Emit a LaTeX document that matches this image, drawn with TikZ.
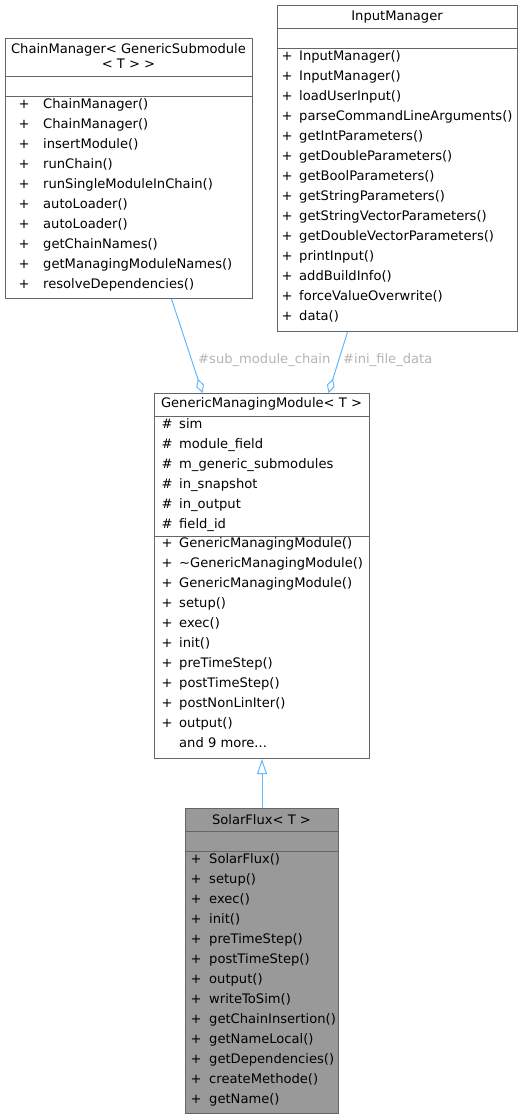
\documentclass[tikz,border=0pt]{standalone}
\usepackage{fontspec}
\setmainfont{DejaVu Sans}
\usetikzlibrary{arrows.meta}
\definecolor{boxline}{HTML}{666666}
\definecolor{boxfill}{HTML}{999999}
\definecolor{edgeblue}{HTML}{63B8FF}
\definecolor{labelgray}{HTML}{B4B4B4}

\begin{document}
\begin{tikzpicture}[
    x=1pt, y=-1pt,
    font=\fontsize{13.1}{15}\selectfont,
    umlbox/.style={draw=boxline, line width=1pt, anchor=north west, inner sep=0pt, fill=white},
    member/.style={anchor=west, inner sep=0pt, text height=9.5pt, text depth=2.5pt},
    sign/.style={anchor=center, inner sep=0pt, text height=9.5pt, text depth=2.5pt},
    sep/.style={draw=boxline, line width=1pt},
    edgelabel/.style={anchor=west, inner sep=0pt, text=labelgray},
    link/.style={draw=edgeblue, line width=1pt}
    ]
\useasboundingbox (0,0) rectangle (522,1119);

% ChainManager
\node[umlbox, minimum width=247pt, minimum height=260pt] (cm) at (5,38) {};
\node[inner sep=0pt] (cmtitle) at (128.5,50) {ChainManager< GenericSubmodule};
\node[inner sep=0pt] (cmtitleb) at (128.5,64) {< T > >};
\draw[sep] (5,76) -- (252,76);
\draw[sep] (5,96) -- (252,96);
\foreach \m [count=\i from 0] in {ChainManager(), ChainManager(), insertModule(), runChain(),
    runSingleModuleInChain(), autoLoader(), autoLoader(), getChainNames(),
    getManagingModuleNames(), resolveDependencies()}
{
\node[sign] (cmp\i) at (24,105+20*\i) {+};
\node[member] (cm\i) at (43,105+20*\i) {\m};
}

% InputManager
\node[umlbox, minimum width=240pt, minimum height=326pt] (im) at (277,5) {};
\node[inner sep=0pt] (imtitle) at (397,17) {InputManager};
\draw[sep] (277,28) -- (517,28);
\draw[sep] (277,48) -- (517,48);
\foreach \m [count=\i from 0] in {InputManager(), InputManager(), loadUserInput(),
    parseCommandLineArguments(), getIntParameters(), getDoubleParameters(),
    getBoolParameters(), getStringParameters(), getStringVectorParameters(),
    getDoubleVectorParameters(), printInput(), addBuildInfo(),
    forceValueOverwrite(), data()}
{
\node[sign] (imp\i) at (287,57+20*\i) {+};
\node[member] (im\i) at (299,57+20*\i) {\m};
}

% GenericManagingModule
\node[umlbox, minimum width=215pt, minimum height=365pt] (gmm) at (154,393) {};
\node[inner sep=0pt] (gmmtitle) at (261.5,404) {GenericManagingModule< T >};
\draw[sep] (154,416) -- (369,416);
\draw[sep] (154,536) -- (369,536);
\foreach \m [count=\i from 0] in {sim, module\_field, m\_generic\_submodules,
    in\_snapshot, in\_output, field\_id}
{
\node[sign] (gmma\i) at (167,425+20*\i) {\#};
\node[member] (gmmattr\i) at (179,425+20*\i) {\m};
}
\foreach \m [count=\i from 0] in {GenericManagingModule(), \textasciitilde GenericManagingModule(),
    GenericManagingModule(), setup(), exec(), init(), preTimeStep(),
    postTimeStep(), postNonLinIter(), output()}
{
\node[sign] (gmmp\i) at (167,544+20*\i) {+};
\node[member] (gmm\i) at (179,544+20*\i) {\m};
}
\node[member] (gmmmore) at (179,744) {and 9 more...};

% SolarFlux
\node[umlbox, fill=boxfill, minimum width=153pt, minimum height=305pt] (sf) at (185,808) {};
\node[inner sep=0pt] (sftitle) at (261.5,820) {SolarFlux< T >};
\draw[sep] (185,831) -- (338,831);
\draw[sep] (185,851) -- (338,851);
\foreach \m [count=\i from 0] in {SolarFlux(), setup(), exec(), init(), preTimeStep(),
    postTimeStep(), output(), writeToSim(), getChainInsertion(), getNameLocal(),
    getDependencies(), createMethode(), getName()}
{
\node[sign] (sfp\i) at (196,860+20*\i) {+};
\node[member] (sf\i) at (209,860+20*\i) {\m};
}

% relations
\draw[link, -{Diamond[open, length=15pt, width=8pt]}] ([xshift=42.5pt]cm.south) -- ([xshift=-59.5pt]gmm.north);
\draw[link, -{Diamond[open, length=15pt, width=8pt]}] ([xshift=-50pt]im.south) -- ([xshift=66.5pt]gmm.north);
\draw[link, -{Triangle[open, length=15pt, width=10pt]}] (sf.north) -- (gmm.south);
\node[edgelabel] (lbchain) at (198,360) {\#sub\_module\_chain};
\node[edgelabel] (lbini) at (343,360) {\#ini\_file\_data};
\end{tikzpicture}
\end{document}
